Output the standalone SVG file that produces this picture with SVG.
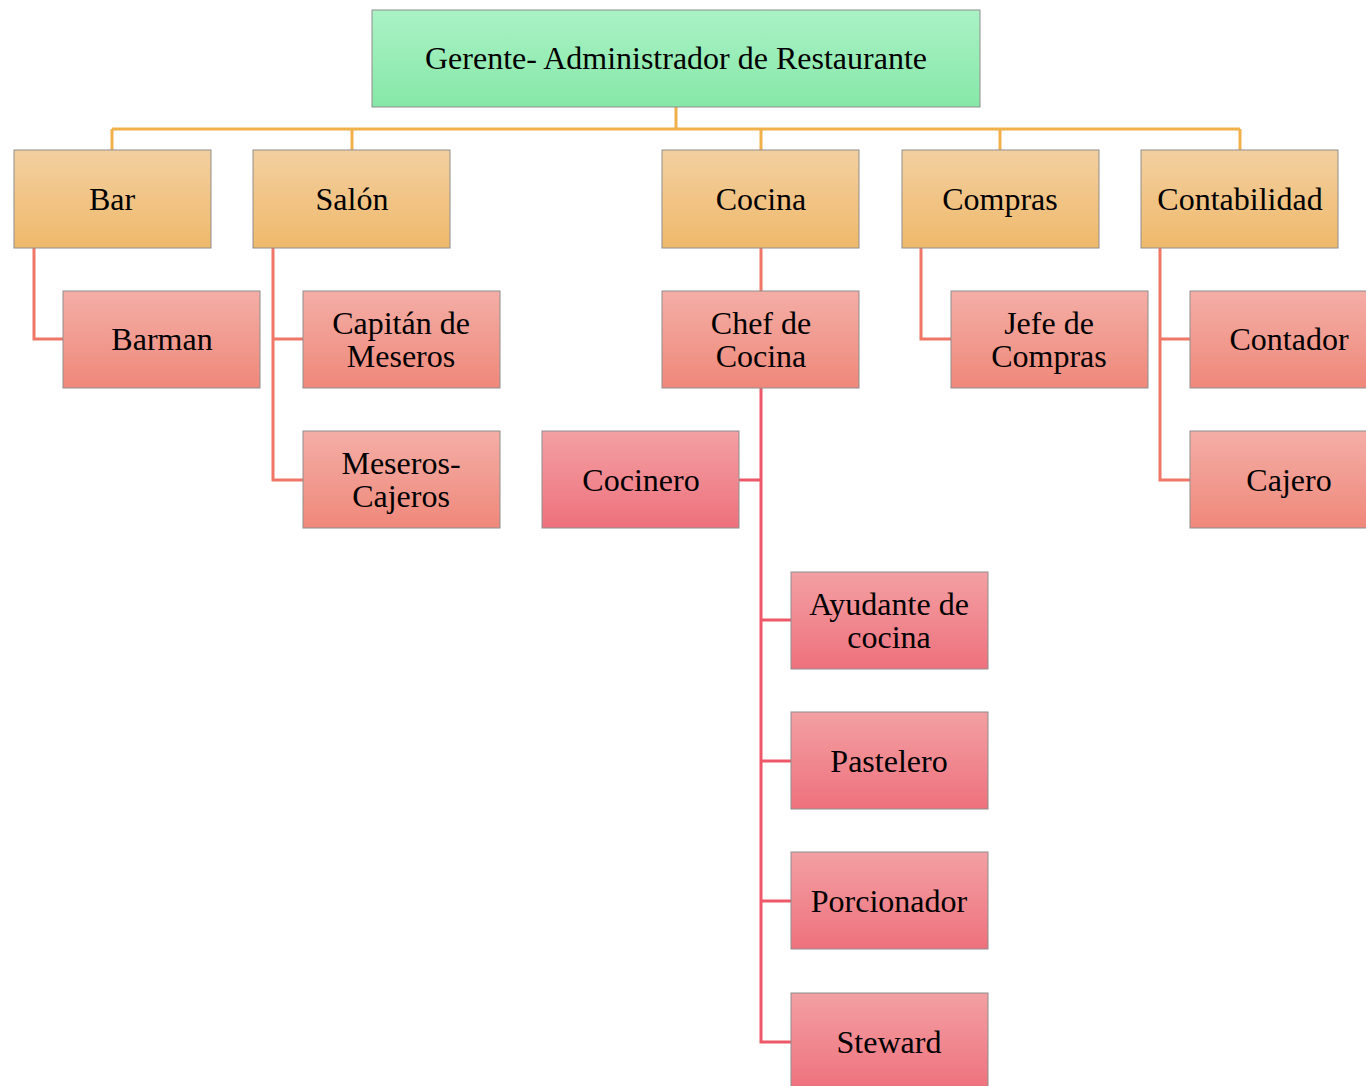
<svg xmlns="http://www.w3.org/2000/svg" width="1366" height="1086" viewBox="0 0 1366 1086">
<defs>
<linearGradient id="gGreen" x1="0" y1="0" x2="0" y2="1"><stop offset="0" stop-color="#aaf2c5"/><stop offset="1" stop-color="#86e8a8"/></linearGradient>
<linearGradient id="gOrange" x1="0" y1="0" x2="0" y2="1"><stop offset="0" stop-color="#f3cfa0"/><stop offset="1" stop-color="#efb96b"/></linearGradient>
<linearGradient id="gSalmon" x1="0" y1="0" x2="0" y2="1"><stop offset="0" stop-color="#f4aea6"/><stop offset="1" stop-color="#ef887a"/></linearGradient>
<linearGradient id="gPink" x1="0" y1="0" x2="0" y2="1"><stop offset="0" stop-color="#f3a0a3"/><stop offset="1" stop-color="#ee717d"/></linearGradient>
</defs>
<style>
.box{stroke:#8e8e8e;stroke-width:1}
.t{font-family:'Liberation Serif','Times New Roman',serif;font-size:32px;fill:#000;text-anchor:middle}
.c1{fill:none;stroke:#f0b04a;stroke-width:3}
.c2{fill:none;stroke:#f07666;stroke-width:3}
.c3{fill:none;stroke:#ee5868;stroke-width:3}
</style>
<rect width="1366" height="1086" fill="#fff"/>
<g id="connectors">
<path class="c1" d="M676 107V129M112 129H1240M112 129V150M352 129V150M761 129V150M1000 129V150M1240 129V150"/>
<path class="c2" d="M34 248V339H63M273 248V480H303M273 339H303M761 248V291M921 248V339H951M1160 248V480H1190M1160 339H1190"/>
<path class="c3" d="M761 388V1042H791M761 480H739M761 620H791M761 761H791M761 901H791"/>
</g>
<g id="gerente"><rect class="box" x="372" y="10" width="608" height="97" fill="url(#gGreen)"/><text class="t" x="676" y="69">Gerente- Administrador de Restaurante</text></g>
<g id="bar"><rect class="box" x="14" y="150" width="197" height="98" fill="url(#gOrange)"/><text class="t" x="112" y="210">Bar</text></g>
<g id="salon"><rect class="box" x="253" y="150" width="197" height="98" fill="url(#gOrange)"/><text class="t" x="352" y="210">Salón</text></g>
<g id="cocina"><rect class="box" x="662" y="150" width="197" height="98" fill="url(#gOrange)"/><text class="t" x="761" y="210">Cocina</text></g>
<g id="compras"><rect class="box" x="902" y="150" width="197" height="98" fill="url(#gOrange)"/><text class="t" x="1000" y="210">Compras</text></g>
<g id="contabilidad"><rect class="box" x="1141" y="150" width="197" height="98" fill="url(#gOrange)"/><text class="t" x="1240" y="210">Contabilidad</text></g>
<g id="barman"><rect class="box" x="63" y="291" width="197" height="97" fill="url(#gSalmon)"/><text class="t" x="162" y="350">Barman</text></g>
<g id="capitan"><rect class="box" x="303" y="291" width="197" height="97" fill="url(#gSalmon)"/><text class="t" x="401" y="334">Capitán de</text><text class="t" x="401" y="367">Meseros</text></g>
<g id="meseros"><rect class="box" x="303" y="431" width="197" height="97" fill="url(#gSalmon)"/><text class="t" x="401" y="474">Meseros-</text><text class="t" x="401" y="507">Cajeros</text></g>
<g id="chef"><rect class="box" x="662" y="291" width="197" height="97" fill="url(#gSalmon)"/><text class="t" x="761" y="334">Chef de</text><text class="t" x="761" y="367">Cocina</text></g>
<g id="jefe"><rect class="box" x="951" y="291" width="197" height="97" fill="url(#gSalmon)"/><text class="t" x="1049" y="334">Jefe de</text><text class="t" x="1049" y="367">Compras</text></g>
<g id="contador"><rect class="box" x="1190" y="291" width="197" height="97" fill="url(#gSalmon)"/><text class="t" x="1289" y="350">Contador</text></g>
<g id="cajero"><rect class="box" x="1190" y="431" width="197" height="97" fill="url(#gSalmon)"/><text class="t" x="1289" y="491">Cajero</text></g>
<g id="cocinero"><rect class="box" x="542" y="431" width="197" height="97" fill="url(#gPink)"/><text class="t" x="641" y="491">Cocinero</text></g>
<g id="ayudante"><rect class="box" x="791" y="572" width="197" height="97" fill="url(#gPink)"/><text class="t" x="889" y="615">Ayudante de</text><text class="t" x="889" y="648">cocina</text></g>
<g id="pastelero"><rect class="box" x="791" y="712" width="197" height="97" fill="url(#gPink)"/><text class="t" x="889" y="772">Pastelero</text></g>
<g id="porcionador"><rect class="box" x="791" y="852" width="197" height="97" fill="url(#gPink)"/><text class="t" x="889" y="912">Porcionador</text></g>
<g id="steward"><rect class="box" x="791" y="993" width="197" height="97" fill="url(#gPink)"/><text class="t" x="889" y="1053">Steward</text></g>
</svg>
